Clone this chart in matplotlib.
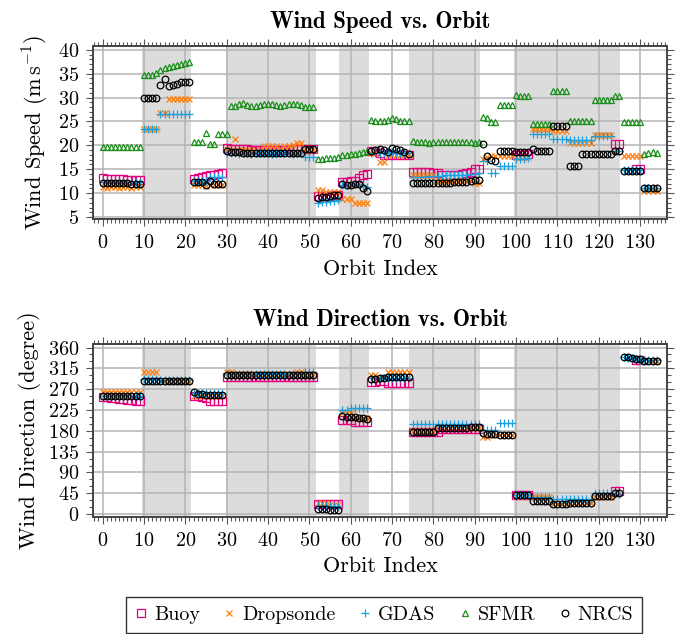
import numpy as np
import matplotlib
matplotlib.use("Agg")
import matplotlib.pyplot as plt
from matplotlib.ticker import MultipleLocator

nan = np.nan
orbit = np.arange(135)

# ---- wind speed (m/s) per orbit ----
spd_buoy = ([13.1, 13.0, 13.0, 12.9, 12.9, 12.9, 12.8, 12.8, 12.7, 12.7]
            + [nan] * 12
            + [12.9, 13.1, 13.3, 13.5, 13.7, 13.9, 14.1, 14.2]
            + [19.4, 19.3, 19.3, 19.2, 19.2, 19.2, 19.1, 19.1, 19.1, 19.0, 19.0,
               19.0, 19.0, 19.1, 19.1, 19.1, 19.2, 19.2, 19.3, 19.3, 19.3, 19.3]
            + [9.4, 9.4, 9.5, 9.5, 9.6, 9.6]
            + [12.3, 12.4, 12.5, 12.6, 13.2, 13.8, 14.0]
            + [18.9, 18.9, 18.5, 17.9, 17.9, 17.9, 17.9, 17.9, 17.9, 17.9]
            + [14.5, 14.5, 14.4, 14.4, 14.4, 14.3, 14.2, 13.9, 13.9, 13.8, 13.8,
               13.9, 14.0, 14.2, 14.4, 15.0, 15.1]
            + [nan] * 8
            + [18.0, 18.0, 18.0, 18.1]
            + [nan] * 20
            + [20.3, 20.3]
            + [nan, nan, nan, 15.0, 15.0]
            + [nan] * 4)

spd_drop = ([11.2, 11.1, 11.2, 11.2, 11.1, 11.2, 11.2, 11.1, 11.2, 11.2]
            + [23.4, 23.4, 23.4, 23.4, 26.7, 26.7, 29.8, 29.8, 29.8, 29.8, 29.8, 29.8]
            + [11.8, 11.7, 11.8, 11.6, 11.7, 11.7, 11.8, 11.7]
            + [19.3, 19.0, 21.4, 19.0, 19.0, 19.0, 19.0, 19.0, 19.0, 19.8, 19.8,
               19.9, 19.9, 19.3, 19.9, 19.9, 20.0, 20.4, 20.4, 19.0, 19.0, 19.0]
            + [10.6, 10.6, 10.2, 10.2, 10.2, 10.2]
            + [8.7, 8.7, 8.7, 7.9, 7.9, 7.9, 7.9]
            + [18.5, 18.5, 16.6, 16.6, 18.0, 18.0, 18.0, 18.0, 18.0, 18.0]
            + [13.8, 13.8, 13.8, 13.8, 13.8, 13.8, 12.5, 12.5, 12.5, 12.5, 12.5,
               12.5, 12.5, 12.5, 12.5, 12.1, 12.1]
            + [17.2, 17.6, 17.7, 17.7, 17.7, 17.7, 17.7, 17.7]
            + [17.5, 17.5, 17.5, 17.5]
            + [23.4, 23.4, 23.4, 23.4, 23.4, 23.0, 23.0, 23.0, 23.0]
            + [20.5, 20.5, 20.5, 20.5, 20.5, 20.5, 22.1, 22.1, 22.1, 22.1, 22.1]
            + [nan, nan]
            + [17.7, 17.7, 17.7, 17.7, 17.7]
            + [10.4, 10.4, 10.4, 10.4])

spd_gdas = ([12.3] * 10
            + [23.5, 23.5, 23.5, 23.5, 26.6, 26.6, 26.6, 26.6, 26.6, 26.6, 26.6, 26.6]
            + [12.5, 12.5, 12.5, 12.5, 13.3, 13.3, 13.3, 13.3]
            + [18.4, 18.5, 18.4, 18.3, 18.4, 18.4, 18.3, 18.4, 18.5, 18.4, 18.4,
               18.3, 18.4, 18.4, 18.5, 18.4, 18.3, 18.4, 18.4, 17.6, 17.6, 17.6]
            + [8.0, 8.1, 8.2, 8.3, 8.4, 8.5]
            + [11.8, 11.8, 11.8, 11.9, 11.9, 11.5, 11.3]
            + [18.5, 18.5, 18.4, 18.5, 18.5, 18.6, 18.5, 18.5, 18.4, 18.5]
            + [13.3, 13.3, 13.4, 13.4, 13.5, 13.5, 13.6, 13.6, 13.7, 13.7, 13.8,
               13.8, 13.9, 13.9, 14.0, 14.1, 14.2]
            + [16.7, 16.7, 14.2, 14.2, 15.6, 15.6, 15.6, 15.6]
            + [17.2, 17.2, 17.2, 17.3]
            + [22.3, 22.3, 22.3, 22.3, 22.3]
            + [21.4, 21.3, 21.3, 21.3, 21.2, 21.2, 21.2, 21.1, 21.1, 21.1]
            + [22.0, 22.0, 22.0, 22.0, 22.0]
            + [18.9, 18.9]
            + [14.8, 14.8, 14.8, 14.8, 14.8]
            + [11.0, 11.0, 11.0, 11.0])

spd_sfmr = ([19.7] * 10
            + [34.7, 34.7, 34.8, 35.2, 35.8, 36.2, 36.4, 36.6, 36.8, 37.0, 37.2, 37.5]
            + [20.8, 20.8, 20.8, 22.5, 20.2, 20.2, 22.4, 22.4, 22.4]
            + [28.3, 28.3, 28.6, 28.8, 28.5, 28.3, 28.3, 28.4, 28.6, 28.7, 28.7,
               28.5, 28.3, 28.4, 28.6, 28.7, 28.6, 28.4, 28.0, 28.1, 28.0]
            + [17.2, 17.2, 17.3, 17.3, 17.4, 17.5]
            + [17.9, 18.0, 18.2, 18.3, 18.5, 18.6, 18.8]
            + [25.3, 25.1, 25.0, 25.2, 25.4, 25.7, 25.5, 25.1, 25.2, 25.2]
            + [20.9, 20.8, 20.7, 20.7, 20.6, 20.7, 20.8, 20.7, 20.7, 20.8, 20.8,
               20.7, 20.7, 20.8, 20.7, 20.6, 20.8]
            + [26.0, 25.7, 24.9, 24.9, 28.4, 28.4, 28.4, 28.4]
            + [30.5, 30.4, 30.4, 30.3]
            + [24.5, 24.5, 24.5, 24.5, 24.5]
            + [31.3, 31.3, 31.3, 31.3]
            + [25.0, 25.1, 25.1, 25.2, 25.1, 25.1]
            + [29.5, 29.5, 29.5, 29.5, 29.5]
            + [30.4, 30.4]
            + [24.9, 24.9, 24.9, 24.9, 24.9]
            + [18.2, 18.4, 18.6, 18.4])

spd_nrcs = ([12.2, 12.1, 12.1, 12.1, 12.1, 12.1, 12.1, 12.0, 12.0, 12.0]
            + [30.0, 30.0, 30.0, 30.0, 32.6, 33.8, 32.5, 32.7, 32.8, 33.2, 33.2, 33.2]
            + [12.3, 12.3, 12.3, 11.8, 12.5, 11.9, 11.9, 11.9]
            + [18.8, 18.7, 18.7, 18.7] + [18.4] * 15 + [19.3, 19.3, 19.3]
            + [9.0, 9.1, 9.3, 9.5, 9.6, 9.7]
            + [11.9, 11.8, 11.8, 11.9, 11.9, 11.1, 10.4]
            + [18.9, 19.0, 19.2, 19.0, 18.7, 19.4, 19.3, 19.1, 18.6, 18.3]
            + [12.2] * 10 + [12.3, 12.3, 12.4, 12.4, 12.5, 12.7, 12.7]
            + [20.2, 17.7, 17.0, 16.7, 18.8, 18.8, 18.8, 18.8]
            + [18.7, 18.7, 18.7, 18.7]
            + [19.2, 18.9, 18.9, 18.9, 18.9]
            + [24.1, 24.1, 24.1, 24.1]
            + [15.6, 15.6, 15.6]
            + [18.1] * 8
            + [18.9, 18.9]
            + [14.7, 14.7, 14.7, 14.7, 14.7]
            + [11.1, 11.1, 11.1, 11.1])

# ---- wind direction (degree) per orbit ----
dir_buoy = ([253, 252, 251, 250, 249, 248, 247, 246, 245, 245]
            + [nan] * 12
            + [256, 256, 252, 251, 245, 245, 245, 245]
            + [297] * 22
            + [22, 22, 22, 22, 22, 22]
            + [204, 204, 204, 200, 200, 199, 199]
            + [285, 285, 287, 287, 283, 283, 283, 283, 283, 283]
            + [178] * 7 + [184] * 10
            + [nan] * 8
            + [41, 41, 41, 41]
            + [nan] * 20
            + [50, 50]
            + [nan, nan, nan, 333, 333]
            + [nan] * 4)

dir_drop = ([263] * 10
            + [306, 306, 306, 306] + [287] * 8
            + [255] * 8
            + [308, 306] + [302] * 15 + [308, 308, 302, 302, 302]
            + [25, 25, 25, 20, 20, 20]
            + [218, 218, 218, 208, 208, 208, 208]
            + [300, 300, 295, 295, 308, 308, 308, 308, 308, 308]
            + [179] * 6 + [187] * 11
            + [167, 167, 172, 172, 170, 170, 170, 170]
            + [40, 40, 40, 40]
            + [36, 36, 36, 36, 36]
            + [21, 21, 21, 21]
            + [25] * 6
            + [38] * 5
            + [nan, nan]
            + [nan, nan, nan, 335, 335]
            + [330, 330, 330, 330])

dir_gdas = ([256] * 10
            + [293, 293, 293, 293] + [289] * 8
            + [262] * 8
            + [302] * 19 + [307, 307, 307]
            + [18] * 6
            + [226, 226, 230, 230, 230, 230, 230]
            + [295] * 10
            + [195] * 17
            + [181, 181, 181, 181, 196, 196, 196, 196]
            + [41, 41, 41, 41]
            + [37] * 5
            + [32] * 4
            + [33] * 6
            + [45] * 5
            + [44, 44]
            + [339, 338, 337, 335, 334]
            + [332, 332, 332, 332])

dir_nrcs = ([256] * 10
            + [288] * 12
            + [263, 260, 259, 258, 257, 257, 257, 257]
            + [301] * 22
            + [11, 10, 10, 9, 9, 9]
            + [211, 210, 210, 209, 208, 208, 205]
            + [292, 293, 294, 294, 296, 296, 296, 296, 296, 296]
            + [178] * 6 + [185, 185, 186, 186, 186, 187, 187, 187, 188, 188, 189]
            + [175, 174, 174, 174, 171, 171, 171, 171]
            + [41, 41, 41, 41]
            + [29] * 5
            + [21] * 4
            + [25] * 6
            + [40] * 5
            + [45, 45]
            + [340, 339, 338, 336, 335]
            + [331, 331, 331, 331])

# orbit ranges belonging to alternating storm groups
shade_spans = [(9.5, 21.5), (29.8, 51.5), (57.2, 64.5), (74.2, 91.2), (99.6, 125.2)]

plt.rcParams["font.family"] = "serif"
plt.rcParams["font.serif"] = ["cmr10"]
plt.rcParams["mathtext.fontset"] = "cm"
plt.rcParams["axes.formatter.use_mathtext"] = True

styles = [
    ("Buoy", dict(marker="s", mfc="none", mec="#e5007d", ms=5.2, mew=0.9)),
    ("Dropsonde", dict(marker="x", color="#ff7f0e", ms=4.2, mew=0.9)),
    ("GDAS", dict(marker="+", color="#1ba1e2", ms=5.5, mew=0.9)),
    ("SFMR", dict(marker="^", mfc="none", mec="#1a8f1a", ms=4.8, mew=0.9)),
    ("NRCS", dict(marker="o", mfc="none", mec="black", ms=4.8, mew=0.9)),
]

fig = plt.figure(figsize=(6.75, 6.34), dpi=100)
ax1 = fig.add_axes([0.1378, 0.6546, 0.8504, 0.2729])
ax2 = fig.add_axes([0.1378, 0.185, 0.8504, 0.272])


def style_axes(ax):
    ax.set_axisbelow(True)
    for x0, x1 in shade_spans:
        ax.axvspan(x0, x1, color="#dcdcdc", lw=0, zorder=0)
    ax.grid(True, which="major", color="#b4b4b4", lw=1.1)
    ax.set_xlim(-2.3, 136.5)
    ax.xaxis.set_major_locator(MultipleLocator(10))
    ax.xaxis.set_minor_locator(MultipleLocator(1))
    ax.tick_params(which="both", direction="out", top=True, right=True,
                   color="#555555", labelsize=14.5, width=0.8, pad=5)
    ax.tick_params(axis="x", which="both", pad=6)
    ax.tick_params(which="major", length=5)
    ax.tick_params(which="minor", length=3)
    for sp in ax.spines.values():
        sp.set_color("#444444")
        sp.set_linewidth(1.4)
    ax.set_xlabel("Orbit Index", fontsize=16, labelpad=5)


series_spd = [spd_buoy, spd_drop, spd_gdas, spd_sfmr, spd_nrcs]
for (name, st), vals in zip(styles, series_spd):
    ax1.plot(orbit, vals, ls="none", label=name, **st)
style_axes(ax1)
ax1.set_ylim(4.6, 40.8)
ax1.yaxis.set_major_locator(MultipleLocator(5))
ax1.yaxis.set_minor_locator(MultipleLocator(1))
ax1.set_ylabel(r"Wind Speed (m$\,$s$^{-1}$)", fontsize=16, labelpad=5)
ax1.set_title("Wind Speed vs. Orbit", fontsize=16.5, family="cmb10", pad=13)

series_dir = [dir_buoy, dir_drop, dir_gdas, None, dir_nrcs]
for (name, st), vals in zip(styles, series_dir):
    if vals is None:
        continue
    ax2.plot(orbit, vals, ls="none", label=name, **st)
style_axes(ax2)
ax2.set_ylim(-5.6, 367)
ax2.yaxis.set_major_locator(MultipleLocator(45))
ax2.yaxis.set_minor_locator(MultipleLocator(15))
ax2.set_ylabel("Wind Direction (degree)", fontsize=16, labelpad=5)
ax2.set_title("Wind Direction vs. Orbit", fontsize=16.5, family="cmb10", pad=13)

handles = [plt.Line2D([], [], ls="none", **st) for _, st in styles]
labels = [name for name, _ in styles]
leg = fig.legend(handles, labels, loc="upper center",
                 bbox_to_anchor=(0.569, 1 - 597 / 634),
                 ncol=5, fontsize=14.5, frameon=True, fancybox=False,
                 edgecolor="black", handlelength=0.6, handletextpad=0.35,
                 columnspacing=1.15, borderpad=0.45, borderaxespad=0)
leg.get_frame().set_linewidth(1.0)

fig.savefig("out.png", dpi=100)
